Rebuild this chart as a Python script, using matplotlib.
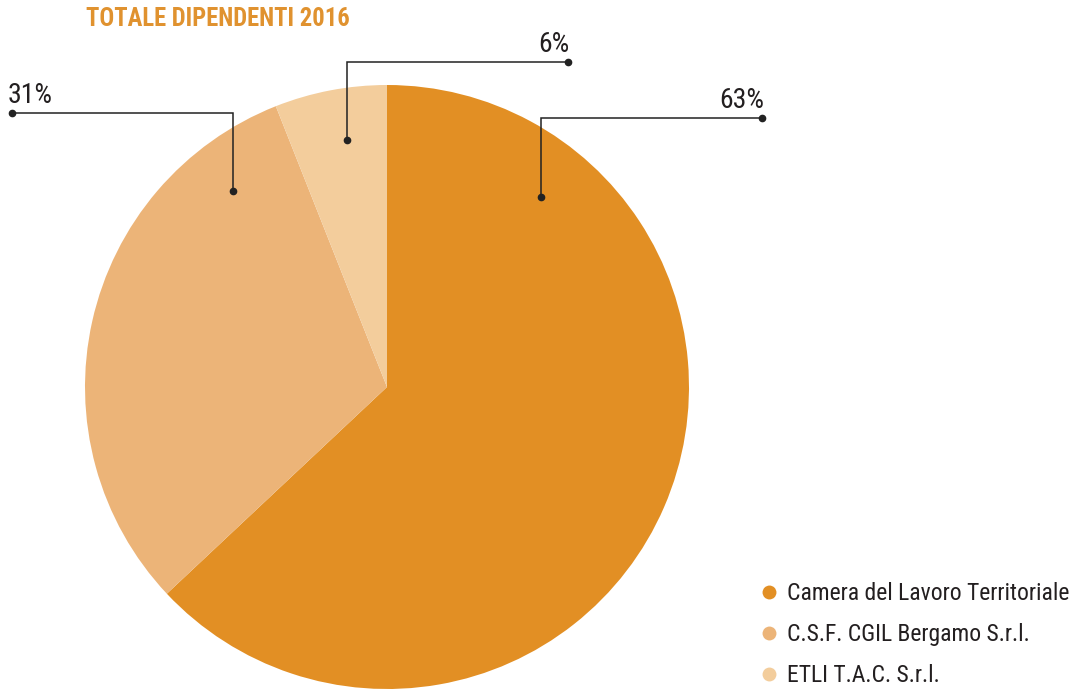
import matplotlib.pyplot as plt
from matplotlib.lines import Line2D

# data
categories = ['Camera del Lavoro Territoriale', 'C.S.F. CGIL Bergamo S.r.l.', 'ETLI T.A.C. S.r.l.']
shares = [63, 31, 6]
colors = ['#E28F24', '#ECB478', '#F3CD9C']
title = 'TOTALE DIPENDENTI 2016'

W, H = 1071, 689
plt.rcParams['font.family'] = ['Roboto Condensed', 'Liberation Sans Narrow', 'DejaVu Sans']
plt.rcParams['font.stretch'] = 'condensed'

fig = plt.figure(figsize=(W / 100, H / 100), dpi=100)
ax = fig.add_axes([0, 0, 1, 1])

# pie in pixel coords (y up)
cx, cy, r = 387, H - 387, 302
ax.pie(shares, colors=colors, startangle=90, counterclock=False,
       center=(cx, cy), radius=r, frame=True,
       wedgeprops=dict(linewidth=0))
ax.set_xlim(0, W)
ax.set_ylim(0, H)
ax.set_aspect('equal')
ax.axis('off')

# leader lines: (dot inside slice), elbow y, end x, text alignment
leaders = [
    ((541, 197), 118, 762, 'right'),
    ((233, 191), 113, 12, 'left'),
    ((347, 140), 62, 568, 'right'),
]
line_col = '#222222'
for (pt, ey, ex, ha), val in zip(leaders, shares):
    x0, y0 = pt[0], H - pt[1]
    ey = H - ey
    ax.plot([x0, x0, ex], [y0, ey, ey], color=line_col, lw=1.1,
            solid_joinstyle='miter')
    ax.plot([x0, ex], [y0, ey], 'o', color=line_col, ms=4.5, lw=0)
    tx = ex + 2 if ha == 'right' else ex - 4
    ax.text(tx, ey + 4, f'{val}%', ha=ha, va='bottom', fontsize=20,
            color='#231f20')

fig.text(86 / W, 1 - 19 / H, title, ha='left', va='center', fontsize=17.7,
         fontweight='bold', color='#E0922F')

handles = [Line2D([0], [0], marker='o', color='none', markerfacecolor=c,
                  markeredgecolor='none', markersize=10) for c in colors]
leg = ax.legend(handles, categories, loc='upper left',
                bbox_to_anchor=(762 / W, 1 - 582 / H), frameon=False,
                fontsize=17, handlelength=0.6, handletextpad=0.45,
                labelspacing=0.76, borderpad=0, borderaxespad=0)
for t in leg.get_texts():
    t.set_color('#231f20')

fig.savefig('out.png', dpi=100)
